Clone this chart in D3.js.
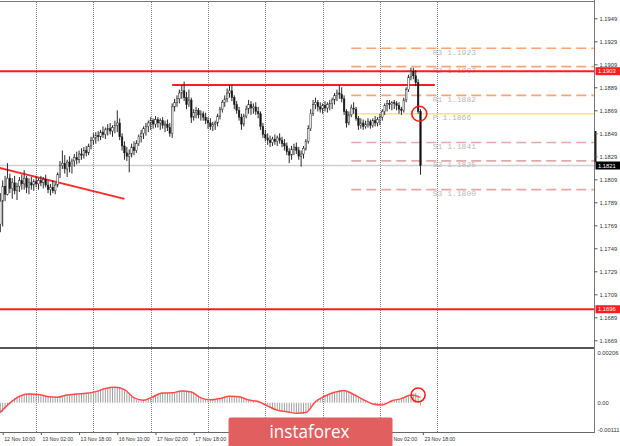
<!DOCTYPE html>
<html><head><meta charset="utf-8">
<script src="https://cdn.jsdelivr.net/npm/d3@7"></script>
<style>html,body{margin:0;padding:0;background:#fff;}svg{display:block;}</style>
</head><body>
<svg id="c" width="620" height="446"></svg>
<script>
// ---- DATA (H1 bars, index 0 = 12 Nov 09:00) ----
const firstOpen = 1.1770;
const highs = [
1.1797,1.1808,1.1812,1.1823,1.1814,1.1810,1.1812,1.1806,1.1811,1.1813,
1.1817,1.1812,1.1810,1.1811,1.1809,1.1812,1.1810,1.1812,1.1811,1.1813,
1.1808,1.1805,1.1808,1.1806,1.1815,1.1825,1.1834,1.1830,1.1826,1.1829,
1.1827,1.1831,1.1833,1.1834,1.1836,1.1837,1.1838,1.1840,1.1846,1.1849,
1.1850,1.1851,1.1852,1.1855,1.1854,1.1857,1.1858,1.1856,1.1860,1.1869,
1.1862,1.1849,1.1842,1.1837,1.1835,1.1840,1.1842,1.1843,1.1848,1.1852,
1.1855,1.1858,1.1860,1.1863,1.1862,1.1864,1.1863,1.1862,1.1863,1.1860,
1.1861,1.1858,1.1875,1.1879,1.1882,1.1887,1.1891,1.1894,1.1885,1.1887,
1.1880,1.1870,1.1872,1.1871,1.1869,1.1868,1.1867,1.1863,1.1862,1.1859,
1.1860,1.1866,1.1872,1.1878,1.1882,1.1888,1.1891,1.1891,1.1882,1.1877,
1.1872,1.1866,1.1866,1.1873,1.1878,1.1877,1.1875,1.1876,1.1872,1.1868,
1.1858,1.1852,1.1849,1.1847,1.1846,1.1848,1.1847,1.1849,1.1846,1.1844,
1.1841,1.1836,1.1838,1.1840,1.1841,1.1837,1.1834,1.1838,1.1844,1.1856,
1.1870,1.1878,1.1880,1.1878,1.1876,1.1875,1.1877,1.1876,1.1878,1.1880,
1.1884,1.1887,1.1891,1.1889,1.1882,1.1870,1.1868,1.1874,1.1876,1.1872,
1.1864,1.1862,1.1861,1.1860,1.1862,1.1861,1.1862,1.1864,1.1863,1.1866,
1.1870,1.1875,1.1878,1.1878,1.1877,1.1878,1.1877,1.1876,1.1872,1.1880,
1.1889,1.1900,1.1906,1.1906,1.1904,1.1896,1.1870];
const lows = [
1.1763,1.1768,1.1790,1.1795,1.1797,1.1792,1.1796,1.1791,1.1798,1.1800,
1.1800,1.1797,1.1796,1.1800,1.1799,1.1802,1.1800,1.1803,1.1801,1.1802,
1.1797,1.1795,1.1797,1.1796,1.1802,1.1810,1.1818,1.1814,1.1811,1.1815,
1.1814,1.1820,1.1822,1.1823,1.1826,1.1827,1.1829,1.1830,1.1835,1.1839,
1.1840,1.1842,1.1843,1.1845,1.1844,1.1847,1.1848,1.1846,1.1849,1.1850,
1.1843,1.1834,1.1826,1.1825,1.1815,1.1828,1.1830,1.1832,1.1838,1.1841,
1.1844,1.1847,1.1850,1.1852,1.1853,1.1854,1.1854,1.1852,1.1853,1.1850,
1.1851,1.1846,1.1845,1.1868,1.1872,1.1875,1.1879,1.1877,1.1870,1.1872,
1.1858,1.1860,1.1862,1.1862,1.1860,1.1860,1.1857,1.1853,1.1852,1.1851,
1.1852,1.1855,1.1861,1.1867,1.1872,1.1876,1.1880,1.1877,1.1870,1.1866,
1.1860,1.1852,1.1855,1.1862,1.1866,1.1865,1.1866,1.1865,1.1862,1.1852,
1.1845,1.1842,1.1839,1.1837,1.1838,1.1839,1.1838,1.1840,1.1837,1.1834,
1.1830,1.1823,1.1826,1.1830,1.1831,1.1826,1.1820,1.1827,1.1834,1.1840,
1.1851,1.1864,1.1870,1.1868,1.1867,1.1866,1.1868,1.1867,1.1869,1.1870,
1.1874,1.1877,1.1879,1.1876,1.1865,1.1854,1.1856,1.1863,1.1866,1.1860,
1.1852,1.1853,1.1852,1.1853,1.1854,1.1853,1.1854,1.1855,1.1855,1.1856,
1.1860,1.1865,1.1868,1.1870,1.1869,1.1870,1.1869,1.1866,1.1865,1.1867,
1.1876,1.1885,1.1895,1.1896,1.1890,1.1866,1.1813];
const closes = [
1.1790,1.1803,1.1796,1.1810,1.1801,1.1806,1.1799,1.1803,1.1808,1.1805,
1.1810,1.1802,1.1806,1.1804,1.1807,1.1805,1.1808,1.1806,1.1809,1.1804,
1.1800,1.1802,1.1799,1.1804,1.1813,1.1821,1.1823,1.1818,1.1824,1.1820,
1.1825,1.1828,1.1826,1.1831,1.1830,1.1834,1.1832,1.1838,1.1843,1.1845,
1.1847,1.1846,1.1850,1.1848,1.1852,1.1853,1.1851,1.1854,1.1856,1.1858,
1.1846,1.1838,1.1832,1.1829,1.1831,1.1837,1.1834,1.1840,1.1846,1.1849,
1.1853,1.1855,1.1858,1.1860,1.1857,1.1861,1.1858,1.1860,1.1856,1.1857,
1.1854,1.1849,1.1872,1.1876,1.1879,1.1884,1.1886,1.1880,1.1874,1.1878,
1.1863,1.1867,1.1869,1.1865,1.1866,1.1863,1.1860,1.1858,1.1855,1.1857,
1.1858,1.1864,1.1870,1.1876,1.1879,1.1884,1.1886,1.1880,1.1874,1.1869,
1.1863,1.1857,1.1864,1.1870,1.1874,1.1871,1.1872,1.1868,1.1866,1.1855,
1.1848,1.1845,1.1843,1.1841,1.1844,1.1842,1.1845,1.1843,1.1840,1.1838,
1.1833,1.1830,1.1835,1.1837,1.1834,1.1829,1.1831,1.1836,1.1842,1.1853,
1.1866,1.1874,1.1876,1.1872,1.1870,1.1873,1.1871,1.1874,1.1875,1.1878,
1.1882,1.1884,1.1883,1.1879,1.1868,1.1858,1.1865,1.1871,1.1870,1.1862,
1.1856,1.1858,1.1855,1.1857,1.1859,1.1856,1.1860,1.1858,1.1861,1.1863,
1.1868,1.1873,1.1875,1.1874,1.1876,1.1875,1.1873,1.1870,1.1869,1.1878,
1.1887,1.1898,1.1903,1.1899,1.1893,1.1868,1.1821];

// MACD main (histogram), in units of 0.00001, one per bar
const macdHist = [
-45,-38,-25,-12,0,12,20,26,30,33,
35,37,38,38,37,36,35,33,30,28,
25,23,22,22,23,26,29,31,33,34,
35,36,36,37,37,38,39,40,42,44,
47,50,54,57,60,62,63,64,64,65,
64,60,52,42,32,24,17,12,10,9,
9,10,14,20,27,33,38,40,41,40,
40,39,41,44,47,49,50,50,49,47,
42,36,30,24,19,15,13,12,11,11,
12,14,17,20,23,25,27,28,28,27,
25,21,17,13,10,8,7,6,5,3,
-2,-8,-15,-22,-27,-30,-32,-33,-34,-35,
-37,-40,-42,-44,-45,-46,-47,-46,-40,-30,
-18,-5,6,14,20,25,29,33,37,40,
44,48,51,53,52,48,43,38,33,28,
22,17,12,7,3,-2,-6,-10,-13,-12,
-8,-3,2,6,9,12,14,16,17,19,
22,27,33,38,40,30,-12];
// MACD signal line (red), read every 4 bars, units of 0.00001
const signalBars = [0,4,8,12,16,20,24,28,32,36,40,44,48,52,56,60,64,68,72,76,80,84,88,92,96,100,104,108,112,116,120,124,128,132,136,140,144,148,152,156,160,164,168,172,176];
const signalVals = [-40,-2,26,36,34,25,23,32,36,39,46,59,64,54,20,10,25,40,41,49,44,20,12,17,27,25,11,5,-14,-31,-37,-44,-41,4,28,43,51,34,13,-5,-9,8,17,32,22];
const macdUnit = 0.00001;

const timeLabels = ["12 Nov 10:00","13 Nov 02:00","13 Nov 18:00","16 Nov 10:00","17 Nov 02:00","17 Nov 18:00","18 Nov 10:00","19 Nov 02:00","19 Nov 18:00","20 Nov 10:00","23 Nov 02:00","23 Nov 18:00"];
const timeLabelBars = [1,17,33,49,65,81,97,113,129,145,161,177];
const daySepBars = [15,39,63,87,111,135,159,183];
const priceTicks = [1.1949,1.1929,1.1909,1.1889,1.1869,1.1849,1.1829,1.1809,1.1789,1.1769,1.1749,1.1729,1.1709,1.1689,1.1669];
const macdTicks = [0.00206,0,-0.00111];
const macdTickLabels = ["0.00206","0.00","-0.00111"];

const pivotNames = ["R3","R2","R1","P","S1","S2","S3"];
const pivotValues = [1.1923,1.1907,1.1882,1.1866,1.1841,1.1825,1.1800];
const pivotStartBar = 147;
const levelPrices = [1.1903,1.1696];
const resistBars = [72,182]; const resistPrice = 1.1891;
const trendBars = [0,52]; const trendPrices = [1.1819,1.1792];
const currentPrice = 1.1821;
const volMarker = [1.1851,1.1824];
const circleBar = 175.5, circlePrice = 1.1866;
const macdCircleBar = 175, macdCircleVal = 32;

// ---- DRAWING ----
const svg = d3.select("#c");
const R = 594.5, mainTop = 2, mainBot = 347, macdTop = 349, macdBot = 432;
const logoBox = {x:228.5, y:417.5, w:164, h:32};
const x = d3.scaleLinear().domain([0,176]).range([0.3,420.5]);
const y = d3.scaleLinear().domain([1.1809,1.1909]).range([179.3,64.3]);
const ym = d3.scaleLinear().domain([-0.00111,0.00206]).range([429.5,353]);

svg.append("rect").attr("width",620).attr("height",446).attr("fill","#fff");
const defs = svg.append("defs");
defs.append("clipPath").attr("id","mclip").append("rect").attr("x",0).attr("y",mainTop).attr("width",R).attr("height",mainBot-mainTop);
defs.append("clipPath").attr("id","dclip").append("rect").attr("x",0).attr("y",macdTop).attr("width",R).attr("height",macdBot-macdTop);

// grid
const grid = svg.append("g");
daySepBars.forEach(b=>{
  const xx = Math.round(x(b))+0.5;
  grid.append("line").attr("x1",xx).attr("x2",xx).attr("y1",mainTop).attr("y2",mainBot)
    .attr("stroke","#808080").attr("stroke-dasharray","1,1");
  grid.append("line").attr("x1",xx).attr("x2",xx).attr("y1",macdTop).attr("y2",macdBot)
    .attr("stroke","#808080").attr("stroke-dasharray","1,1");
});

const main = svg.append("g").attr("clip-path","url(#mclip)");
// current price line
main.append("line").attr("x1",0).attr("x2",R).attr("y1",y(currentPrice)).attr("y2",y(currentPrice))
  .attr("stroke","#cfcfcf").attr("stroke-width",1.5);

// pivot lines
pivotNames.forEach((n,i)=>{
  const yy = y(pivotValues[i]);
  const col = n==="P" ? "#ffe27a" : (n[0]==="R" ? "#f5a576" : "#e2a9a9");
  main.append("line").attr("x1",x(pivotStartBar)).attr("x2",R).attr("y1",yy).attr("y2",yy)
    .attr("stroke",col).attr("stroke-width",1.6)
    .attr("stroke-dasharray", n==="P" ? null : "10,5");
});
pivotNames.forEach((n,i)=>{
  main.append("text").attr("x",x(182)-2).attr("y",y(pivotValues[i])+6.5)
    .attr("font-family","Liberation Mono, DejaVu Sans Mono, monospace").attr("font-size",8)
    .attr("fill","#b9b9b9").text(n+" "+pivotValues[i].toFixed(4));
});

// red levels
levelPrices.forEach(p=>{
  main.append("line").attr("x1",0).attr("x2",R).attr("y1",y(p)).attr("y2",y(p))
    .attr("stroke","#ff1c1c").attr("stroke-width",2);
});
main.append("line").attr("x1",x(resistBars[0])).attr("x2",x(resistBars[1]))
  .attr("y1",y(resistPrice)).attr("y2",y(resistPrice)).attr("stroke","#ff1c1c").attr("stroke-width",1.8);
main.append("line").attr("x1",x(trendBars[0])-1).attr("x2",x(trendBars[1]))
  .attr("y1",y(trendPrices[0])).attr("y2",y(trendPrices[1])).attr("stroke","#ff2a2a").attr("stroke-width",2);

// candles
const bars = closes.map((c,i)=>({i, o: i===0?firstOpen:closes[i-1], h: highs[i], l: lows[i], c}));
const cg = main.append("g");
cg.selectAll("line.w").data(bars).join("line")
  .attr("x1",d=>x(d.i)).attr("x2",d=>x(d.i))
  .attr("y1",d=>y(Math.max(d.h,d.o))).attr("y2",d=>y(Math.min(d.l,d.o)))
  .attr("stroke","#2a2a2a").attr("stroke-width",1);
cg.selectAll("rect.b").data(bars).join("rect")
  .attr("x",d=>x(d.i)-0.8).attr("width",1.6)
  .attr("y",d=>y(Math.max(d.o,d.c))).attr("height",d=>Math.max(0.6,Math.abs(y(d.o)-y(d.c))))
  .attr("fill",d=>d.c>=d.o?"#ffffff":"#111").attr("stroke","#2a2a2a").attr("stroke-width",0.5);

// circle marker
main.append("circle").attr("cx",x(circleBar)).attr("cy",y(circlePrice)).attr("r",7.5)
  .attr("fill","none").attr("stroke","#ff1c1c").attr("stroke-width",1.6);

// MACD
const md = svg.append("g").attr("clip-path","url(#dclip)");
md.selectAll("line.h").data(macdHist).join("line")
  .attr("x1",(d,i)=>x(i)).attr("x2",(d,i)=>x(i))
  .attr("y1",ym(0)).attr("y2",d=>ym(d*macdUnit))
  .attr("stroke","#a0a0a0").attr("stroke-width",1);
md.append("path").datum(signalBars.map((b,i)=>[b,signalVals[i]]))
  .attr("d",d3.line().x(d=>x(d[0])).y(d=>ym(d[1]*macdUnit)).curve(d3.curveMonotoneX))
  .attr("fill","none").attr("stroke","#ff4a4a").attr("stroke-width",1.5);
md.append("circle").attr("cx",x(macdCircleBar)).attr("cy",ym(macdCircleVal*macdUnit)).attr("r",7)
  .attr("fill","none").attr("stroke","#ff1c1c").attr("stroke-width",1.6);

// frame
svg.append("line").attr("x1",0).attr("x2",R).attr("y1",1.5).attr("y2",1.5).attr("stroke","#777");
svg.append("line").attr("x1",0).attr("x2",R).attr("y1",348).attr("y2",348).attr("stroke","#555").attr("stroke-width",2);
svg.append("line").attr("x1",0).attr("x2",R).attr("y1",macdBot+0.5).attr("y2",macdBot+0.5).attr("stroke","#666");
svg.append("line").attr("x1",R).attr("x2",R).attr("y1",0).attr("y2",macdBot+1).attr("stroke","#777");
svg.append("line").attr("x1",R+1).attr("x2",R+1).attr("y1",y(volMarker[0])).attr("y2",y(volMarker[1])).attr("stroke","#222").attr("stroke-width",2);

// price axis
const fontAx = "Liberation Sans, Arial, sans-serif";
const pa = svg.append("g").attr("transform",`translate(${R},0)`)
  .call(d3.axisRight(y).tickValues(priceTicks).tickFormat(d3.format(".4f")).tickSize(3).tickPadding(2));
pa.select(".domain").remove();
pa.selectAll("line").attr("stroke","#555");
pa.selectAll("text").attr("font-family",fontAx).attr("font-size",5.8).attr("fill","#333");

// price boxes
const boxes = [{p:levelPrices[0],bg:"#ff1c1c"},{p:levelPrices[1],bg:"#ff1c1c"},{p:currentPrice,bg:"#000"}];
boxes.forEach(b=>{
  const yy = y(b.p);
  svg.append("rect").attr("x",R+1).attr("y",yy-4).attr("width",25).attr("height",8).attr("fill",b.bg);
  svg.append("text").attr("x",R+3.5).attr("y",yy+2).attr("font-family",fontAx).attr("font-size",5.8)
    .attr("fill","#fff").text(b.p.toFixed(4));
});

// MACD axis
const ma = svg.append("g").attr("transform",`translate(${R},0)`)
  .call(d3.axisRight(ym).tickValues(macdTicks).tickFormat((d,i)=>macdTickLabels[i]).tickSize(0).tickPadding(3));
ma.select(".domain").remove();
ma.selectAll("text").attr("font-family",fontAx).attr("font-size",5.8).attr("fill","#333");

// time axis (labels fully covered by the logo panel are not drawn)
const labelW = 35;
const shownIdx = timeLabelBars.map((b,i)=>i).filter(i=>{
  const sx = x(timeLabelBars[i])+1;
  return !(sx >= logoBox.x && sx+labelW <= logoBox.x+logoBox.w);
});
const ta = svg.append("g").attr("transform",`translate(0,${macdBot+1})`)
  .call(d3.axisBottom(x).tickValues(shownIdx.map(i=>timeLabelBars[i]))
    .tickFormat(d=>timeLabels[timeLabelBars.indexOf(d)]).tickSize(2).tickPadding(2));
ta.select(".domain").remove();
ta.selectAll("line").attr("stroke","#555");
ta.selectAll("text").attr("text-anchor","start").attr("dx",1).attr("font-family",fontAx)
  .attr("font-size",5.2).attr("fill","#333");

// logo
svg.append("rect").attr("x",logoBox.x).attr("y",logoBox.y).attr("width",logoBox.w).attr("height",logoBox.h).attr("rx",2).attr("fill","#e15f5f");
svg.append("text").attr("x",269.5).attr("y",437.5).attr("font-family","Open Sans, sans-serif").attr("font-size",18)
  .attr("fill","#fff").attr("textLength",80).attr("lengthAdjust","spacingAndGlyphs").text("instaforex");
</script>
</body></html>
